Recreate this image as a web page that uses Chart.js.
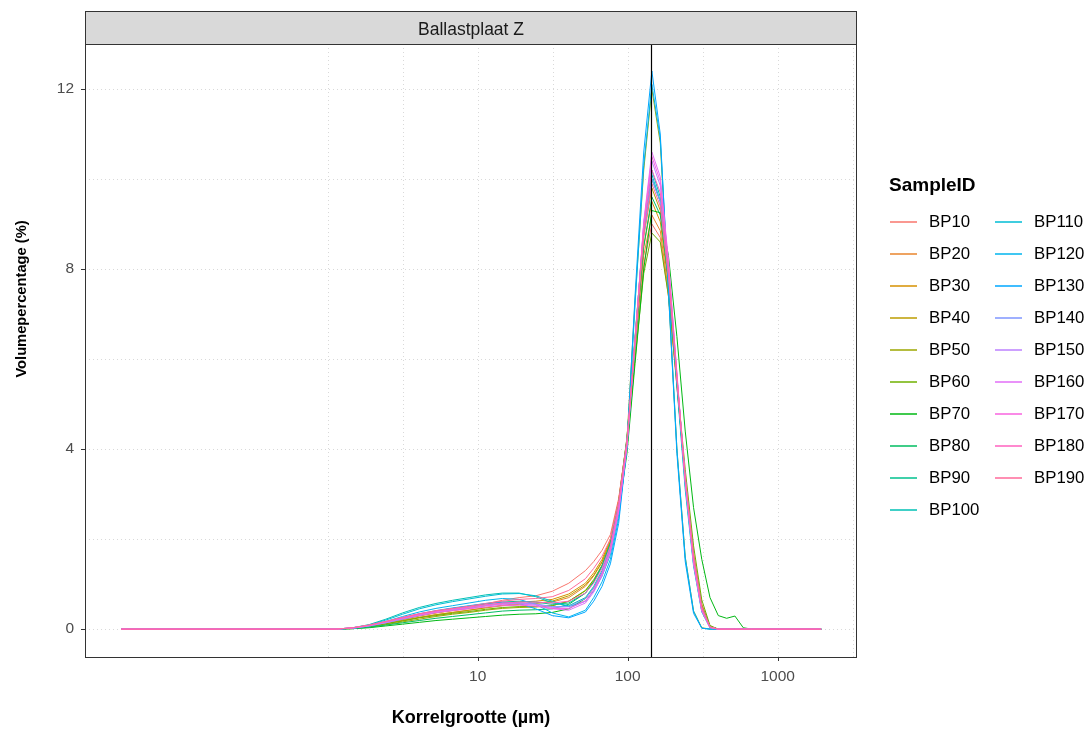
<!DOCTYPE html>
<html>
<head>
<meta charset="utf-8">
<title>Ballastplaat Z</title>
<script src="https://cdn.jsdelivr.net/npm/chart.js@4.4.1/dist/chart.umd.min.js"></script>
<style>
  html, body { margin: 0; padding: 0; background: #fff; }
  #wrap { width: 1090px; height: 729px; }
</style>
</head>
<body>
<div id="wrap"><canvas id="psd" width="1090" height="729"></canvas></div>
<script>
// particle size classes (µm)
var sizes = [0.042, 1.14, 1.47, 1.89, 2.44, 3.16, 4.08, 5.27, 6.8, 8.77, 11.3, 14.6, 18.9, 24.4, 31.4, 40.5, 52.3,
    59.4, 67.5, 76.7, 87.1, 98.9, 112, 128, 145, 165, 187, 213, 242, 275, 312, 354, 402, 457, 519, 590, 670, 1950];

// volume percentage per class, one array per sample
var bp10  = [0, 0, 0.02, 0.06, 0.13, 0.21, 0.29, 0.36, 0.42, 0.48, 0.56, 0.64, 0.70, 0.74, 0.84, 1.02, 1.30, 1.50, 1.75, 2.10, 2.90, 4.20, 6.20, 8.10, 9.00, 8.70, 7.40, 5.40, 3.40, 1.70, 0.55, 0.06, 0, 0, 0, 0, 0, 0];
var bp20  = [0, 0, 0.02, 0.06, 0.12, 0.19, 0.26, 0.32, 0.37, 0.42, 0.48, 0.53, 0.57, 0.58, 0.60, 0.70, 0.95, 1.18, 1.48, 1.95, 2.85, 4.20, 6.30, 8.30, 9.20, 8.85, 7.50, 5.40, 3.35, 1.65, 0.55, 0.06, 0, 0, 0, 0, 0, 0];
var bp30  = [0, 0, 0.02, 0.07, 0.14, 0.22, 0.30, 0.36, 0.41, 0.46, 0.52, 0.57, 0.60, 0.62, 0.66, 0.78, 1.02, 1.25, 1.55, 2.00, 2.85, 4.25, 6.40, 8.50, 9.50, 9.05, 7.65, 5.45, 3.35, 1.60, 0.52, 0.05, 0, 0, 0, 0, 0, 0];
var bp40  = [0, 0, 0.02, 0.06, 0.12, 0.19, 0.26, 0.32, 0.37, 0.42, 0.47, 0.52, 0.55, 0.57, 0.62, 0.74, 0.98, 1.20, 1.50, 1.95, 2.80, 4.20, 6.45, 8.75, 9.80, 9.30, 7.80, 5.50, 3.30, 1.55, 0.48, 0.04, 0, 0, 0, 0, 0, 0];
var bp50  = [0, 0, 0.01, 0.05, 0.10, 0.16, 0.22, 0.28, 0.33, 0.37, 0.42, 0.46, 0.48, 0.49, 0.52, 0.62, 0.85, 1.08, 1.40, 1.85, 2.60, 4.20, 7.30, 10.20, 12.00, 10.80, 7.50, 4.00, 1.60, 0.40, 0.03, 0, 0, 0, 0, 0, 0, 0];
var bp60  = [0, 0, 0.02, 0.06, 0.12, 0.18, 0.25, 0.30, 0.35, 0.39, 0.44, 0.48, 0.50, 0.50, 0.52, 0.62, 0.86, 1.10, 1.42, 1.90, 2.75, 4.05, 6.00, 7.90, 8.80, 8.60, 7.40, 5.50, 3.55, 1.85, 0.65, 0.08, 0, 0, 0, 0, 0, 0];
var bp70  = [0, 0, 0.01, 0.03, 0.07, 0.11, 0.15, 0.19, 0.22, 0.25, 0.28, 0.31, 0.33, 0.34, 0.37, 0.45, 0.68, 0.92, 1.25, 1.75, 2.60, 3.90, 5.90, 8.00, 9.30, 9.25, 8.30, 6.50, 4.40, 2.70, 1.55, 0.70, 0.30, 0.24, 0.29, 0.03, 0, 0];
var bp80  = [0, 0, 0.01, 0.04, 0.09, 0.14, 0.19, 0.24, 0.28, 0.32, 0.36, 0.40, 0.42, 0.43, 0.45, 0.55, 0.80, 1.05, 1.40, 1.90, 2.80, 4.15, 6.30, 8.50, 9.60, 9.20, 7.75, 5.50, 3.35, 1.60, 0.50, 0.05, 0, 0, 0, 0, 0, 0];
var bp90  = [0, 0, 0.02, 0.07, 0.15, 0.24, 0.33, 0.40, 0.46, 0.51, 0.56, 0.60, 0.62, 0.60, 0.55, 0.58, 0.80, 1.05, 1.40, 1.90, 2.80, 4.25, 6.50, 8.85, 10.00, 9.50, 7.90, 5.60, 3.35, 1.55, 0.45, 0.04, 0, 0, 0, 0, 0, 0];
var bp100 = [0, 0, 0.03, 0.10, 0.22, 0.36, 0.48, 0.57, 0.64, 0.70, 0.76, 0.80, 0.80, 0.72, 0.58, 0.52, 0.70, 0.95, 1.30, 1.80, 2.70, 4.15, 6.45, 8.95, 10.20, 9.60, 7.90, 5.50, 3.20, 1.45, 0.40, 0.03, 0, 0, 0, 0, 0, 0];
var bp110 = [0, 0, 0.03, 0.09, 0.20, 0.33, 0.45, 0.54, 0.61, 0.67, 0.73, 0.78, 0.79, 0.74, 0.62, 0.50, 0.62, 0.85, 1.18, 1.65, 2.55, 4.00, 6.35, 8.90, 10.10, 9.50, 7.80, 5.40, 3.10, 1.40, 0.38, 0.03, 0, 0, 0, 0, 0, 0];
var bp120 = [0, 0, 0.02, 0.08, 0.17, 0.28, 0.38, 0.46, 0.52, 0.58, 0.64, 0.68, 0.66, 0.55, 0.36, 0.27, 0.42, 0.70, 1.05, 1.55, 2.45, 4.05, 7.20, 10.30, 12.10, 10.90, 7.60, 4.00, 1.60, 0.40, 0.02, 0, 0, 0, 0, 0, 0, 0];
var bp130 = [0, 0, 0.02, 0.07, 0.15, 0.25, 0.34, 0.41, 0.47, 0.52, 0.57, 0.60, 0.57, 0.45, 0.30, 0.25, 0.38, 0.62, 0.95, 1.45, 2.35, 4.05, 7.40, 10.60, 12.40, 11.00, 7.50, 3.90, 1.50, 0.35, 0.02, 0, 0, 0, 0, 0, 0, 0];
var bp140 = [0, 0, 0.02, 0.07, 0.14, 0.22, 0.30, 0.37, 0.42, 0.47, 0.52, 0.56, 0.58, 0.56, 0.50, 0.50, 0.68, 0.92, 1.28, 1.80, 2.70, 4.15, 6.40, 8.85, 10.00, 9.50, 7.90, 5.60, 3.35, 1.55, 0.45, 0.04, 0, 0, 0, 0, 0, 0];
var bp150 = [0, 0, 0.02, 0.07, 0.14, 0.23, 0.31, 0.37, 0.43, 0.48, 0.53, 0.57, 0.58, 0.55, 0.48, 0.46, 0.62, 0.86, 1.22, 1.75, 2.65, 4.10, 6.40, 9.00, 10.40, 9.85, 8.10, 5.65, 3.30, 1.50, 0.42, 0.04, 0, 0, 0, 0, 0, 0];
var bp160 = [0, 0, 0.03, 0.08, 0.16, 0.25, 0.33, 0.39, 0.44, 0.48, 0.52, 0.55, 0.56, 0.53, 0.45, 0.42, 0.58, 0.82, 1.18, 1.70, 2.60, 4.05, 6.35, 9.05, 10.60, 10.05, 8.20, 5.65, 3.25, 1.45, 0.40, 0.03, 0, 0, 0, 0, 0, 0];
var bp170 = [0, 0, 0.03, 0.08, 0.16, 0.24, 0.31, 0.37, 0.41, 0.45, 0.49, 0.52, 0.53, 0.51, 0.46, 0.46, 0.63, 0.88, 1.24, 1.75, 2.65, 4.10, 6.40, 9.00, 10.50, 9.95, 8.15, 5.70, 3.30, 1.50, 0.42, 0.04, 0, 0, 0, 0, 0, 0];
var bp180 = [0, 0, 0.03, 0.09, 0.17, 0.26, 0.34, 0.40, 0.45, 0.49, 0.54, 0.58, 0.60, 0.60, 0.58, 0.62, 0.80, 1.02, 1.35, 1.85, 2.75, 4.15, 6.45, 8.90, 10.20, 9.70, 8.00, 5.60, 3.35, 1.55, 0.45, 0.04, 0, 0, 0, 0, 0, 0];
var bp190 = [0, 0, 0.03, 0.09, 0.17, 0.26, 0.34, 0.41, 0.46, 0.51, 0.57, 0.62, 0.66, 0.68, 0.72, 0.86, 1.12, 1.35, 1.62, 2.00, 2.85, 4.20, 6.35, 8.70, 9.90, 9.40, 7.85, 5.55, 3.40, 1.65, 0.50, 0.05, 0, 0, 0, 0, 0, 0];

var sampleIds = ['BP10', 'BP20', 'BP30', 'BP40', 'BP50', 'BP60', 'BP70', 'BP80', 'BP90', 'BP100',
    'BP110', 'BP120', 'BP130', 'BP140', 'BP150', 'BP160', 'BP170', 'BP180', 'BP190'];
var volumes = [bp10, bp20, bp30, bp40, bp50, bp60, bp70, bp80, bp90, bp100,
    bp110, bp120, bp130, bp140, bp150, bp160, bp170, bp180, bp190];

var xTicks = [10, 100, 1000];
var yTicks = [0, 4, 8, 12];
var xGrid = [1, 3.162, 10, 31.62, 100, 316.2, 1000, 3162];
var yGrid = [0, 2, 4, 6, 8, 10, 12];
var refSize = 142;      // vertical reference line (µm)
var facetTitle = 'Ballastplaat Z';

// evenly spaced hues in HCL space (c = 100, l = 65)
function hcl(h, c, l) {
    var hr = h * Math.PI / 180;
    var U = c * Math.cos(hr), V = c * Math.sin(hr);
    var Y = Math.pow((l + 16) / 116, 3);
    var Xn = 0.95047, Yn = 1, Zn = 1.08883;
    var d = Xn + 15 * Yn + 3 * Zn;
    var u = U / (13 * l) + 4 * Xn / d;
    var v = V / (13 * l) + 9 * Yn / d;
    var X = 9 * Y * u / (4 * v);
    var Z = 3 * Y / v - X / 3 - 5 * Y;
    var rgb = [
        3.240479 * X - 1.537150 * Y - 0.498535 * Z,
        -0.969256 * X + 1.875992 * Y + 0.041556 * Z,
        0.055648 * X - 0.204043 * Y + 1.057311 * Z
    ].map(function (t) {
        t = t <= 0.0031308 ? 12.92 * t : 1.055 * Math.pow(t, 1 / 2.4) - 0.055;
        t = Math.max(0, Math.min(1, t));
        return ('0' + Math.round(t * 255).toString(16)).slice(-2);
    });
    return '#' + rgb.join('');
}
var colors = sampleIds.map(function (id, i) {
    return hcl(15 + i * 360 / sampleIds.length, 100, 65);
});

var datasets = sampleIds.map(function (id, i) {
    return {
        label: id,
        data: sizes.map(function (s, k) { return { x: s, y: volumes[i][k] }; }),
        borderColor: colors[i],
        backgroundColor: colors[i],
        borderWidth: 1,
        pointRadius: 0,
        tension: 0,
        fill: false,
        order: sampleIds.length - i   // later samples on top
    };
});

var FONT = '"Liberation Sans", Arial, sans-serif';

// grid, panel border, strip, axis titles and legend
var panelPlugin = {
    id: 'panel',
    beforeDatasetsDraw: function (chart) {
        var ctx = chart.ctx, a = chart.chartArea, sx = chart.scales.x, sy = chart.scales.y;
        ctx.save();
        ctx.strokeStyle = '#d9d9d9';
        ctx.lineWidth = 1;
        ctx.setLineDash([1, 3]);
        xGrid.forEach(function (g) {
            var px = Math.round(sx.getPixelForValue(g)) + 0.5;
            if (px < a.left || px > a.right) return;
            ctx.beginPath(); ctx.moveTo(px, a.top); ctx.lineTo(px, a.bottom); ctx.stroke();
        });
        yGrid.forEach(function (g) {
            var py = Math.round(sy.getPixelForValue(g)) + 0.5;
            ctx.beginPath(); ctx.moveTo(a.left, py); ctx.lineTo(a.right, py); ctx.stroke();
        });
        ctx.restore();
    },
    afterDatasetsDraw: function (chart) {
        var ctx = chart.ctx, a = chart.chartArea, sx = chart.scales.x, sy = chart.scales.y;
        ctx.save();

        // reference line
        var rx = Math.round(sx.getPixelForValue(refSize)) + 0.5;
        ctx.strokeStyle = '#000';
        ctx.lineWidth = 1.2;
        ctx.beginPath(); ctx.moveTo(rx, a.top); ctx.lineTo(rx, a.bottom); ctx.stroke();

        // panel border
        ctx.strokeStyle = '#333';
        ctx.lineWidth = 1;
        ctx.strokeRect(a.left + 0.5, a.top + 0.5, a.right - a.left - 1, a.bottom - a.top);

        // tick marks
        xTicks.forEach(function (t) {
            var px = Math.round(sx.getPixelForValue(t)) + 0.5;
            ctx.beginPath(); ctx.moveTo(px, a.bottom); ctx.lineTo(px, a.bottom + 4); ctx.stroke();
        });
        yTicks.forEach(function (t) {
            var py = Math.round(sy.getPixelForValue(t)) + 0.5;
            ctx.beginPath(); ctx.moveTo(a.left - 4, py); ctx.lineTo(a.left, py); ctx.stroke();
        });

        // facet strip
        ctx.fillStyle = '#d9d9d9';
        ctx.fillRect(a.left, 11, a.right - a.left, a.top - 11);
        ctx.strokeRect(a.left + 0.5, 11.5, a.right - a.left - 1, a.top - 11);
        ctx.fillStyle = '#1a1a1a';
        ctx.font = '17.5px ' + FONT;
        ctx.textAlign = 'center';
        ctx.textBaseline = 'middle';
        ctx.fillText(facetTitle, (a.left + a.right) / 2, 30);

        // axis titles
        ctx.fillStyle = '#000';
        ctx.font = 'bold 18px ' + FONT;
        ctx.fillText('Korrelgrootte (µm)', (a.left + a.right) / 2, 718);
        ctx.save();
        ctx.translate(22, 299);
        ctx.rotate(-Math.PI / 2);
        ctx.font = 'bold 14.7px ' + FONT;
        ctx.fillText('Volumepercentage (%)', 0, 0);
        ctx.restore();

        // legend, two columns
        ctx.textAlign = 'left';
        ctx.font = 'bold 19px ' + FONT;
        ctx.fillText('SampleID', 889, 186);
        ctx.font = '16.8px ' + FONT;
        ctx.lineWidth = 1.5;
        sampleIds.forEach(function (id, i) {
            var col = i < 10 ? 0 : 1;
            var yy = 222 + (i % 10) * 32;
            var x0 = col ? 995 : 890;
            ctx.strokeStyle = colors[i];
            ctx.beginPath(); ctx.moveTo(x0, yy); ctx.lineTo(x0 + 27, yy); ctx.stroke();
            ctx.fillStyle = '#000';
            ctx.fillText(id, x0 + 39, yy);
        });
        ctx.restore();
    }
};

var chart = new Chart(document.getElementById('psd').getContext('2d'), {
    type: 'line',
    data: { datasets: datasets },
    options: {
        responsive: false,
        animation: false,
        layout: { padding: { left: 0, right: 233, top: 44, bottom: 0 } },
        plugins: { legend: { display: false }, tooltip: { enabled: false } },
        scales: {
            x: {
                type: 'logarithmic',
                min: 0.0241,
                max: 3381,
                grid: { display: false },
                border: { display: false },
                afterBuildTicks: function (scale) {
                    scale.ticks = xTicks.map(function (v) { return { value: v }; });
                },
                afterFit: function (scale) { scale.height = 72; },
                ticks: {
                    autoSkip: false,
                    maxRotation: 0,
                    padding: 2,
                    color: '#4d4d4d',
                    font: { family: FONT, size: 15.5 },
                    callback: function (v) { return String(v); }
                }
            },
            y: {
                min: -0.62,
                max: 13.0,
                grid: { display: false },
                border: { display: false },
                afterBuildTicks: function (scale) {
                    scale.ticks = yTicks.map(function (v) { return { value: v }; });
                },
                afterFit: function (scale) { scale.width = 85; },
                ticks: {
                    padding: 3,
                    color: '#4d4d4d',
                    font: { family: FONT, size: 15.5 },
                    callback: function (v) { return String(v); }
                }
            }
        }
    },
    plugins: [panelPlugin]
});
</script>
</body>
</html>
